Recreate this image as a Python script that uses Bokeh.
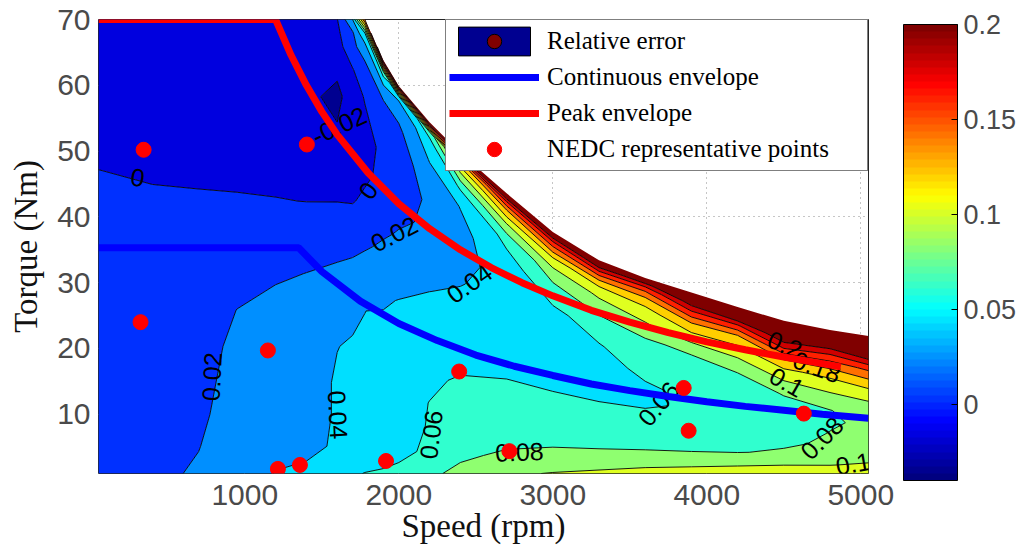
import numpy as np
from bokeh.plotting import figure
from bokeh.models import (Range1d, FixedTicker, ColorBar, LinearColorMapper,
                          Legend, LegendItem, CustomJSTickFormatter)
from bokeh.core.properties import value
from bokeh.embed import file_html
from bokeh.resources import INLINE

# ---------------- data ----------------
# grid columns (speed, rpm) and the upper torque limit of the map at each column
speed_rpm = [50, 400, 700, 950, 1200, 1400, 1600, 1700, 1780, 1900, 2000, 2200,
             2400, 2700, 3000, 3300, 3600, 3900, 4200, 4500, 4800, 5050]
max_torque = [70, 70, 70, 70, 70, 70, 70, 70, 70, 63.8, 59.9, 54.4,
              49.7, 43.6, 37.7, 33.4, 30.7, 28.5, 26.3, 24.2, 22.8, 21.9]
# rows: fraction of the way from 1 Nm up to the torque limit of the column
row_fraction = [0, 0.06, 0.13, 0.2, 0.28, 0.36, 0.44, 0.52, 0.6, 0.68,
                0.76, 0.83, 0.89, 0.94, 0.97, 1.0]
# relative error read at every grid node, one list per speed column (bottom -> top)
rel_error_by_speed = [
    [0.012, 0.011, 0.0097, 0.0084, 0.007, 0.0056, 0.0041, 0.0027, 0.0013, -0.0002, -0.0031, -0.0058, -0.008, -0.0098, -0.0109, -0.012],
    [0.016, 0.0145, 0.0128, 0.011, 0.009, 0.0071, 0.005, 0.0031, 0.0011, -0.0013, -0.0042, -0.0068, -0.009, -0.0108, -0.0119, -0.013],
    [0.022, 0.0195, 0.0175, 0.0163, 0.0148, 0.0122, 0.0082, 0.0047, 0.0011, -0.0022, -0.0055, -0.0085, -0.0105, -0.0125, -0.0133, -0.014],
    [0.032, 0.029, 0.026, 0.0245, 0.023, 0.0202, 0.0138, 0.0074, 0.0009, -0.0028, -0.0061, -0.009, -0.0115, -0.0136, -0.0148, -0.016],
    [0.0405, 0.036, 0.0305, 0.0304, 0.0296, 0.026, 0.0174, 0.0089, 0.0005, -0.004, -0.0085, -0.012, -0.0145, -0.016, -0.017, -0.018],
    [0.043, 0.0364, 0.0357, 0.0357, 0.0347, 0.0311, 0.0203, 0.010, -0.0002, -0.006, -0.012, -0.0165, -0.016, -0.0145, -0.0135, -0.012],
    [0.047, 0.0418, 0.041, 0.041, 0.0398, 0.0353, 0.0239, 0.0115, -0.0003, -0.008, -0.019, -0.024, -0.017, -0.008, -0.004, -0.0008],
    [0.058, 0.045, 0.0444, 0.0442, 0.041, 0.0377, 0.0257, 0.0129, -0.001, -0.006, -0.014, -0.012, -0.001, 0.0137, 0.017, 0.04],
    [0.0605, 0.0476, 0.047, 0.0467, 0.042, 0.0398, 0.0272, 0.0158, 0.003, -0.005, -0.006, 0.0018, 0.0126, 0.0327, 0.06, 0.16],
    [0.062, 0.0519, 0.0509, 0.0505, 0.0434, 0.043, 0.0364, 0.0255, 0.016, 0.007, 0.0038, 0.0069, 0.013, 0.04, 0.07, 0.22],
    [0.064, 0.0555, 0.0541, 0.0538, 0.050, 0.047, 0.041, 0.0323, 0.023, 0.015, 0.011, 0.012, 0.017, 0.028, 0.045, 0.22],
    [0.077, 0.0632, 0.061, 0.0603, 0.057, 0.052, 0.046, 0.0398, 0.031, 0.025, 0.023, 0.029, 0.041, 0.05, 0.07, 0.23],
    [0.084, 0.077, 0.07, 0.066, 0.062, 0.056, 0.049, 0.044, 0.039, 0.034, 0.035, 0.0405, 0.062, 0.101, 0.135, 0.22],
    [0.097, 0.083, 0.075, 0.07, 0.065, 0.058, 0.054, 0.051, 0.048, 0.048, 0.053, 0.065, 0.099, 0.14, 0.18, 0.24],
    [0.101, 0.087, 0.077, 0.071, 0.066, 0.058, 0.054, 0.053, 0.055, 0.057, 0.072, 0.09, 0.117, 0.16, 0.19, 0.25],
    [0.103, 0.092, 0.077, 0.071, 0.065, 0.058, 0.055, 0.055, 0.059, 0.066, 0.084, 0.102, 0.125, 0.17, 0.205, 0.26],
    [0.106, 0.094, 0.078, 0.07, 0.064, 0.058, 0.058, 0.063, 0.068, 0.077, 0.097, 0.111, 0.133, 0.165, 0.195, 0.26],
    [0.108, 0.095, 0.078, 0.071, 0.066, 0.062, 0.063, 0.066, 0.071, 0.084, 0.113, 0.139, 0.175, 0.208, 0.23, 0.27],
    [0.109, 0.097, 0.079, 0.073, 0.068, 0.066, 0.067, 0.071, 0.079, 0.096, 0.117, 0.14, 0.178, 0.22, 0.24, 0.28],
    [0.11, 0.099, 0.083, 0.077, 0.073, 0.072, 0.074, 0.081, 0.098, 0.118, 0.145, 0.186, 0.215, 0.24, 0.26, 0.29],
    [0.111, 0.0995, 0.088, 0.083, 0.0805, 0.078, 0.0795, 0.09, 0.108, 0.123, 0.15, 0.18, 0.21, 0.24, 0.26, 0.29],
    [0.112, 0.102, 0.094, 0.089, 0.084, 0.083, 0.087, 0.099, 0.115, 0.138, 0.164, 0.2, 0.23, 0.26, 0.28, 0.3],
]
contour_levels = [-0.1, -0.02, 0, 0.02, 0.04, 0.06, 0.08, 0.1, 0.12, 0.14, 0.16, 0.18, 0.2, 0.5]

# envelopes
peak_speed = [50, 1200, 1300, 1400, 1500, 1600, 1800, 2000, 2200, 2400, 2600, 2800,
              3000, 3250, 3500, 3750, 4000, 4250, 4500, 4750, 4870]
peak_torque = [70, 70, 64.6, 60.0, 56.0, 52.5, 46.7, 42.0, 38.2, 35.0, 32.3, 30.0,
               28.0, 25.8, 24.0, 22.4, 21.0, 19.8, 18.7, 17.7, 17.2]
cont_speed = [50, 1350, 1500, 1750, 2000, 2250, 2500, 2750, 3000, 3250, 3500, 3750,
              4000, 4250, 4500, 4750, 5050]
cont_torque = [35.3, 35.3, 31.7, 27.2, 23.8, 21.2, 19.0, 17.3, 15.9, 14.6, 13.6, 12.7,
               11.9, 11.2, 10.6, 10.0, 9.4]

# NEDC representative operating points
nedc_speed = [343, 1403, 323, 1150, 1215, 1358, 1917, 2392, 2718, 3850, 3882, 4630]
nedc_torque = [50.2, 51.0, 24.0, 19.7, 1.7, 2.3, 2.9, 16.5, 4.4, 14.0, 7.5, 10.1]

# in-line contour labels
clabel_text = ["0", "-0.02", "0", "0.02", "0.02", "0.04", "0.04", "0.06", "0.06",
               "0.08", "0.08", "0.1", "0.1", "0.2", "0.18"]
clabel_speed = [304, 1612, 1800, 1970, 785, 1605, 2457, 2210, 3687,
                2783, 4747, 4950, 4520, 4507, 4715]
clabel_torque = [46.0, 53.9, 44.0, 37.4, 15.7, 9.9, 29.9, 6.9, 11.6,
                 4.3, 6.4, 2.5, 14.9, 20.6, 17.2]
clabel_angle = [-8, 25, 54, 27, 87, -87, 35, 83, 50, 2, 45, 10, -30, -22, -20]

x_ticks = [1000, 2000, 3000, 4000, 5000]
y_ticks = [10, 20, 30, 40, 50, 60, 70]
cbar_ticks = [0, 0.05, 0.1, 0.15, 0.2]

# ---------------- styling helpers ----------------
band_colors = ["#000090", "#0000DF", "#0030FF", "#008FFF", "#00DFFF", "#30FFCF",
               "#8FFF70", "#DFFF20", "#FFCF00", "#FF7000", "#FF2000", "#CF0000", "#800000"]

def _jet(n=64):
    out = []
    for k in range(n):
        t = k / (n - 1)
        r = min(max(1.5 - abs(4 * t - 3), 0), 1)
        g = min(max(1.5 - abs(4 * t - 2), 0), 1)
        b = min(max(1.5 - abs(4 * t - 1), 0), 1)
        out.append("#%02x%02x%02x" % (int(round(r * 255)), int(round(g * 255)), int(round(b * 255))))
    return out

SANS = "Liberation Sans"
SERIF = "Liberation Serif"

# ---------------- figure ----------------
p = figure(frame_width=770, frame_height=454,
           x_range=Range1d(50, 5050), y_range=Range1d(1, 70),
           output_backend="svg", toolbar_location=None,
           min_border_left=98, min_border_right=154, min_border_top=19, min_border_bottom=85,
           background_fill_color="white", border_fill_color="white")

Z = np.array(rel_error_by_speed, dtype=float).T
nrow = len(row_fraction)
X = np.tile(np.array(speed_rpm, dtype=float), (nrow, 1))
Y = 1 + (np.array(max_torque, dtype=float)[None, :] - 1) * np.array(row_fraction)[:, None]

p.contour(X, Y, Z, levels=contour_levels, fill_color=band_colors,
          line_color="black", line_width=0.9)

p.text(x=clabel_speed, y=clabel_torque, text=clabel_text, angle=clabel_angle,
       angle_units="deg", text_font=value(SANS), text_font_size="25px",
       text_align="center", text_baseline="middle", text_color="black")

r_cont = p.line(cont_speed, cont_torque, line_color="#0000FF", line_width=7)
r_peak = p.line(peak_speed, peak_torque, line_color="#FF0000", line_width=7)
r_pts = p.scatter(nedc_speed, nedc_torque, marker="circle", size=15,
                  fill_color="#FF0000", line_color="#FF0000")

# legend proxies for the filled-contour symbol (hidden in the plot itself)
r_leg_a = p.quad(left=[X[0, 0]], right=[X[0, 1]], bottom=[Y[0, 0]], top=[Y[1, 0]],
                 fill_color="#000090", line_color="black", visible=False)
r_leg_b = p.scatter(x=[X[0, 0]], y=[Y[0, 0]], marker="circle", size=10,
                    fill_color="#800000", line_color="black", visible=False)

legend = Legend(items=[
    LegendItem(label="Relative error", renderers=[r_leg_a, r_leg_b]),
    LegendItem(label="Continuous envelope", renderers=[r_cont]),
    LegendItem(label="Peak envelope", renderers=[r_peak]),
    LegendItem(label="NEDC representative points", renderers=[r_pts]),
], location="top_right")
legend.margin = 0
legend.padding = 3
legend.spacing = 0
legend.glyph_width = 90
legend.glyph_height = 36
legend.label_height = 36
legend.label_width = 317
legend.label_standoff = 8
legend.label_text_font = SERIF
legend.label_text_font_size = "25px"
legend.label_text_color = "black"
legend.border_line_color = "black"
legend.border_line_width = 1
legend.background_fill_color = "white"
legend.background_fill_alpha = 1
p.add_layout(legend)

# axes
p.xaxis.ticker = FixedTicker(ticks=x_ticks)
p.yaxis.ticker = FixedTicker(ticks=y_ticks)
for ax in (p.xaxis[0], p.yaxis[0]):
    ax.major_tick_in = 0
    ax.major_tick_out = 0
    ax.minor_tick_line_color = None
    ax.axis_line_color = None
    ax.major_label_text_font = SANS
    ax.major_label_text_font_size = "30px"
    ax.major_label_text_color = "#4a4a4a"
    ax.axis_label_text_font = SERIF
    ax.axis_label_text_font_size = "33px"
    ax.axis_label_text_font_style = "normal"
    ax.axis_label_text_color = "#111111"
p.xaxis.axis_label = "Speed (rpm)"
p.yaxis.axis_label = "Torque (Nm)"
p.xaxis.major_label_standoff = 11
p.xaxis.axis_label_standoff = 0
p.yaxis.major_label_standoff = 8
p.yaxis.axis_label_standoff = 10

p.xgrid.grid_line_color = "#8c8c8c"
p.ygrid.grid_line_color = "#8c8c8c"
p.xgrid.grid_line_dash = "1 4"
p.ygrid.grid_line_dash = "1 4"
p.outline_line_color = "#262626"
p.outline_line_width = 1

mapper = LinearColorMapper(palette=_jet(64), low=-0.04, high=0.2)
cb = ColorBar(color_mapper=mapper, ticker=FixedTicker(ticks=cbar_ticks),
              formatter=CustomJSTickFormatter(code="return tick.toString()"),
              width=54, height=456, padding=0, margin=0, location=(35, -7),
              label_standoff=6, major_label_text_font=SANS,
              major_label_text_font_size="27px", major_label_text_color="#4a4a4a",
              major_tick_line_color="black", major_tick_in=6, major_tick_out=0,
              minor_tick_line_color=None, bar_line_color="black")
p.add_layout(cb, "right")

open("out.html", "w").write(file_html(p, INLINE))
